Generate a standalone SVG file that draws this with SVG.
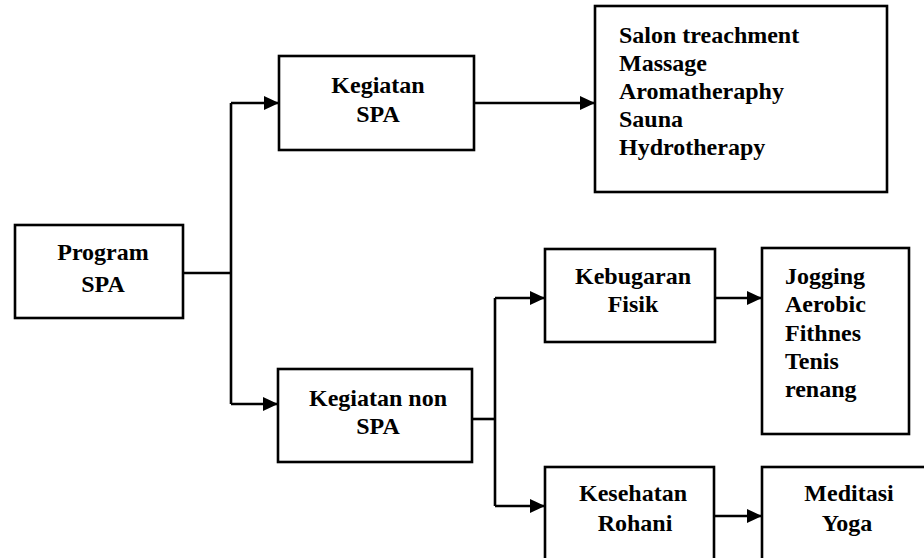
<svg xmlns="http://www.w3.org/2000/svg" width="924" height="558" viewBox="0 0 924 558">
<style>
.box{fill:#fff;stroke:#000;stroke-width:2.6}
.t{font-family:"Liberation Serif","Times New Roman",serif;font-size:24px;font-weight:bold;fill:#000}
.c{text-anchor:middle}
.ln{fill:none;stroke:#000;stroke-width:2.6}
</style>
<defs>
<marker id="ah" markerUnits="userSpaceOnUse" markerWidth="16" markerHeight="14" refX="15" refY="7" orient="auto">
<path d="M0,0 L15,7 L0,14 Z" fill="#000"/>
</marker>
</defs>
<rect width="924" height="558" fill="#fff"/>
<g id="connectors">
<path class="ln" d="M183,273 H231"/>
<path class="ln" d="M231,103 V404"/>
<path class="ln" d="M231,103 H279" marker-end="url(#ah)"/>
<path class="ln" d="M231,404 H278" marker-end="url(#ah)"/>
<path class="ln" d="M474,103 H595" marker-end="url(#ah)"/>
<path class="ln" d="M472,419 H495"/>
<path class="ln" d="M495,298 V506"/>
<path class="ln" d="M495,298 H545" marker-end="url(#ah)"/>
<path class="ln" d="M495,506 H545" marker-end="url(#ah)"/>
<path class="ln" d="M715,298 H762" marker-end="url(#ah)"/>
<path class="ln" d="M714,516 H762" marker-end="url(#ah)"/>
</g>
<g id="program-spa">
<rect class="box" x="15" y="225" width="168" height="93"/>
<text class="t c" x="103" y="260">Program</text>
<text class="t c" x="103" y="292">SPA</text>
</g>
<g id="kegiatan-spa">
<rect class="box" x="279" y="56" width="195" height="94"/>
<text class="t c" x="378" y="93">Kegiatan</text>
<text class="t c" x="378" y="122">SPA</text>
</g>
<g id="spa-list">
<rect class="box" x="595" y="6" width="292" height="186"/>
<text class="t" x="619" y="43">Salon treachment</text>
<text class="t" x="619" y="71">Massage</text>
<text class="t" x="619" y="99">Aromatheraphy</text>
<text class="t" x="619" y="127">Sauna</text>
<text class="t" x="619" y="155">Hydrotherapy</text>
</g>
<g id="kegiatan-non-spa">
<rect class="box" x="278" y="369" width="194" height="93"/>
<text class="t c" x="378" y="406">Kegiatan non</text>
<text class="t c" x="378" y="434">SPA</text>
</g>
<g id="kebugaran-fisik">
<rect class="box" x="545" y="249" width="170" height="93"/>
<text class="t c" x="633" y="284">Kebugaran</text>
<text class="t c" x="633" y="312">Fisik</text>
</g>
<g id="fisik-list">
<rect class="box" x="762" y="248" width="147" height="186"/>
<text class="t" x="785" y="284">Jogging</text>
<text class="t" x="785" y="312">Aerobic</text>
<text class="t" x="785" y="341">Fithnes</text>
<text class="t" x="785" y="369">Tenis</text>
<text class="t" x="785" y="397">renang</text>
</g>
<g id="kesehatan-rohani">
<rect class="box" x="545" y="467" width="169" height="110"/>
<text class="t c" x="633" y="501">Kesehatan</text>
<text class="t c" x="635" y="531">Rohani</text>
</g>
<g id="rohani-list">
<rect class="box" x="762" y="467" width="180" height="110"/>
<text class="t c" x="849" y="501">Meditasi</text>
<text class="t c" x="847" y="531">Yoga</text>
</g>
</svg>
